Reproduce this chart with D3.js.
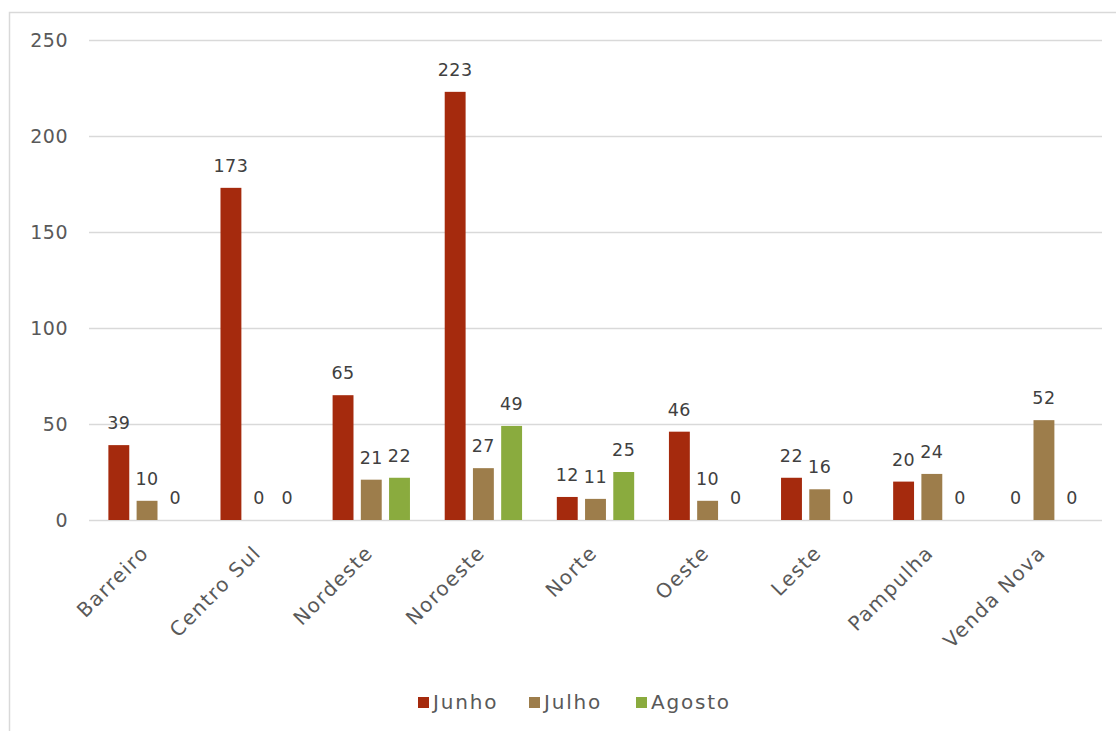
<!DOCTYPE html>
<html><head><meta charset="utf-8">
<script src="https://cdn.jsdelivr.net/npm/d3@7"></script>
<style>body{margin:0;background:#fff}svg{display:block}</style>
</head><body>
<svg id="c" width="1116" height="731"></svg>
<script>
const categories = ["Barreiro","Centro Sul","Nordeste","Noroeste","Norte","Oeste","Leste","Pampulha","Venda Nova"];
const seriesNames = ["Junho","Julho","Agosto"];
const junho  = [39,173,65,223,12,46,22,20,0];
const julho  = [10,0,21,27,11,10,16,24,52];
const agosto = [0,0,22,49,25,0,0,0,0];
const yTicks = [0,50,100,150,200,250];
const colors = ["#a52a0d","#9d7d4b","#8aab3e"];

const seriesVals = [junho, julho, agosto];
const svg = d3.select("#c");
const font = "'DejaVu Sans', sans-serif";
const m = {left:89, right:1102, top:40, bottom:520};

svg.append("rect").attr("x",9.5).attr("y",12.5).attr("width",1120).attr("height",730)
  .attr("fill","#fff").attr("stroke","#d9d9d9").attr("stroke-width",1.5);

const x0 = d3.scaleBand().domain(categories).range([91,1100]).paddingInner(0.31).paddingOuter(0.155);
const x1 = d3.scaleBand().domain(seriesNames).range([0,x0.bandwidth()]).paddingInner(0.26);
const y = d3.scaleLinear().domain([0,250]).range([m.bottom,m.top]);

// gridlines
svg.append("g").selectAll("line").data(yTicks).join("line")
  .attr("x1",m.left).attr("x2",m.right)
  .attr("y1",d=>y(d)+0.5).attr("y2",d=>y(d)+0.5)
  .attr("stroke","#d9d9d9").attr("stroke-width",1.5);

// y axis labels
const yAxis = d3.axisLeft(y).tickValues(yTicks).tickSize(0).tickPadding(0);
const ya = svg.append("g").attr("transform",`translate(${m.left-21},0)`).call(yAxis);
ya.select(".domain").remove();
ya.selectAll("text").attr("font-family",font).attr("font-size",19).attr("letter-spacing",0.5).attr("fill","#595959");

// bars
const data = [];
categories.forEach((c,i)=>seriesNames.forEach((s,j)=>data.push({c,s,j,v:seriesVals[j][i]})));
svg.append("g").selectAll("rect").data(data).join("rect")
  .attr("x",d=>x0(d.c)+x1(d.s))
  .attr("y",d=>y(d.v))
  .attr("width",x1.bandwidth())
  .attr("height",d=>y(0)-y(d.v))
  .attr("fill",d=>colors[d.j]);

// data labels
svg.append("g").selectAll("text").data(data).join("text")
  .attr("x",d=>x0(d.c)+x1(d.s)+x1.bandwidth()/2)
  .attr("y",d=>y(d.v)-16)
  .attr("text-anchor","middle")
  .attr("font-family",font).attr("font-size",17.5).attr("letter-spacing",0.5).attr("fill","#404040")
  .text(d=>d.v);

// x axis labels
const xAxis = d3.axisBottom(x0).tickSize(0).tickPadding(0);
const xa = svg.append("g").attr("transform",`translate(0,${m.bottom})`).call(xAxis);
xa.select(".domain").remove();
xa.selectAll("text")
  .attr("font-family",font).attr("font-size",20).attr("letter-spacing",1.5).attr("fill","#595959")
  .attr("text-anchor","end")
  .attr("dy",0)
  .attr("transform","translate(3,34) rotate(-45)");

// legend
const lg = svg.append("g");
const legX = [418, 529, 636];
seriesNames.forEach((s,j)=>{
  lg.append("rect").attr("x",legX[j]).attr("y",697).attr("width",11).attr("height",11).attr("fill",colors[j]);
  lg.append("text").attr("x",legX[j]+15).attr("y",709).attr("font-family",font).attr("font-size",20)
    .attr("letter-spacing",1.8).attr("fill","#595959").text(s);
});
</script>
</body></html>
